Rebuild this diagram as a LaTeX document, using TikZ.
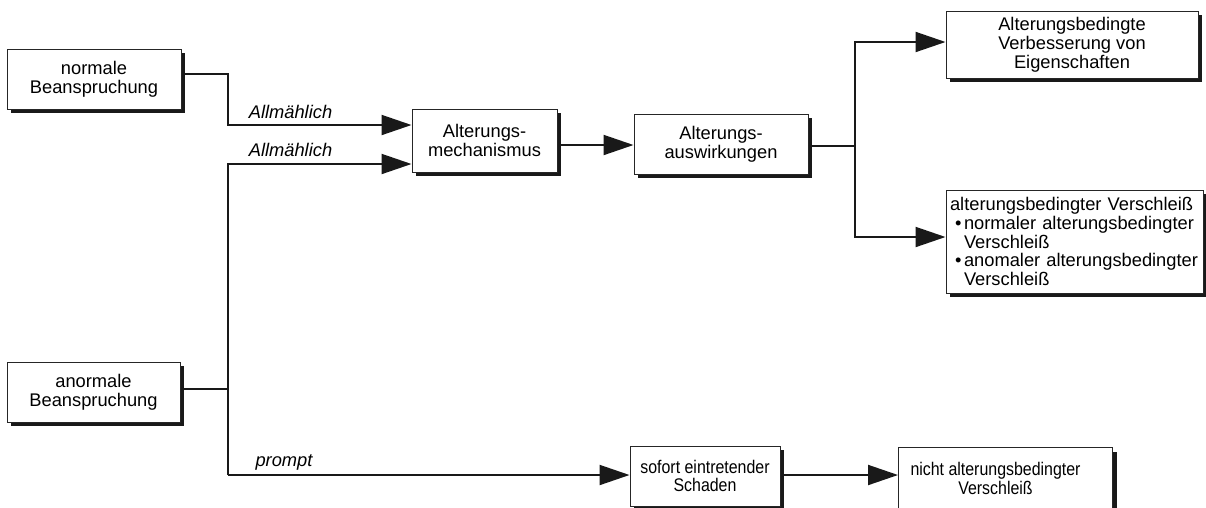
\documentclass[tikz,border=0pt]{standalone}
\usepackage{fontspec}
\setmainfont{Liberation Sans}
\newfontfamily\narrowfont[FakeStretch=0.87]{Liberation Sans}
\usetikzlibrary{arrows.meta,shadows}
\begin{document}
\begin{tikzpicture}[x=1pt,y=-1pt,
  box/.style={draw=black!85, line width=1pt, fill=white, inner sep=0pt, align=center,
    font=\fontsize{18.3}{19}\selectfont,
    drop shadow={shadow xshift=4pt, shadow yshift=-4pt, opacity=1, fill=black!90}},
  small/.style={font=\narrowfont\fontsize{18.3}{18.5}\selectfont},
  conn/.style={line width=2pt, draw=black!90},
  arr/.style={conn, -{Triangle[length=30pt,width=20pt]}},
  lbl/.style={font=\fontsize{18.3}{19}\selectfont\itshape, inner sep=0pt}]
\clip (0,0) rectangle (1206,507);
\fill[white] (0,0) rectangle (1206,507);

% boxes
\node[box, minimum width=174pt, minimum height=60pt] (norm) at (94,79) {normale\\Beanspruchung};
\node[box, minimum width=173pt, minimum height=60pt] (anorm) at (93.5,392) {anormale\\Beanspruchung};
\node[box, minimum width=145pt, minimum height=63pt] (mech) at (484.5,140.5) {Alterungs-\\mechanismus};
\node[box, minimum width=174pt, minimum height=60pt] (ausw) at (721,144) {Alterungs-\\auswirkungen};
\node[box, minimum width=252pt, minimum height=67pt] (topr) at (1072,44.5) {Alterungsbedingte\\Verbesserung von\\Eigenschaften};
\node[box, minimum width=257pt, minimum height=103pt, align=left, text width=249pt, inner xsep=4pt,
      font=\fontsize{18.3}{18.8}\selectfont] (botr) at (1074.5,241.5)
  {\mbox{alterungsbedingter Verschleiß}\\
   \mbox{\hspace*{5pt}\makebox[9pt][l]{\textbullet}normaler alterungsbedingter}\\
   \mbox{\hspace*{14pt}Verschleiß}\\
   \mbox{\hspace*{5pt}\makebox[9pt][l]{\textbullet}anomaler alterungsbedingter}\\
   \mbox{\hspace*{14pt}Verschleiß}};
\node[box, small, minimum width=150pt, minimum height=60pt] (sofort) at (705,476) {sofort eintretender\\Schaden};
\node[box, small, anchor=north west, minimum width=214pt, inner ysep=15pt, text depth=60pt] (nicht) at (898,447)
  {nicht alterungsbedingter\hspace*{20pt}\\Verschleiß\hspace*{20pt}};

% connector bend points
\coordinate (a1) at (228,74);
\coordinate (a2) at (228,125);
\coordinate (b1) at (228,164);
\coordinate (b0) at (228,389);
\coordinate (b2) at (228,475);
\coordinate (c)  at (855,146);
\coordinate (c1) at (855,42);
\coordinate (c2) at (855,237);

% connectors
\draw[arr] (norm.east |- a1) -- (a1) -- (a2) -- (mech.west |- a2);
\draw[arr] (b2) -- (b1) -- (mech.west |- b1);
\draw[conn] (anorm.east |- b0) -- (b0);
\draw[arr] (b2) -- (sofort.west |- b2);
\draw[arr] (mech.east |- 0,145) -- (ausw.west |- 0,145);
\draw[conn] (ausw.east |- c) -- (c);
\draw[arr] (c) -- (c1) -- (topr.west |- c1);
\draw[arr] (c) -- (c2) -- (botr.west |- c2);
\draw[arr] (sofort.east |- b2) -- (nicht.west |- b2);

% labels
\node[lbl] (l1) at (290.5,112) {Allmählich};
\node[lbl] (l2) at (290.5,150) {Allmählich};
\node[lbl] (l3) at (284,462) {prompt};
\end{tikzpicture}
\end{document}
